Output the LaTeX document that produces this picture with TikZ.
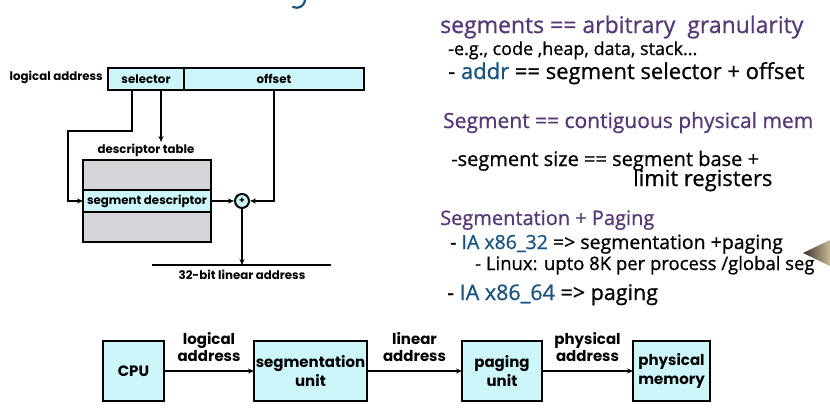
\documentclass[tikz,border=0pt]{standalone}
\usepackage{fontspec}
\setmainfont{Poppins}
\newfontfamily\handfont[FakeBold=0.8]{Open Sans}
\usetikzlibrary{arrows.meta,calc}
\definecolor{boxcyan}{RGB}{204,246,250}
\definecolor{tablegray}{RGB}{211,213,216}
\definecolor{inkpurple}{RGB}{86,58,118}
\definecolor{inkblue}{RGB}{26,84,128}
\definecolor{penbody}{RGB}{200,186,152}
\definecolor{pentip}{RGB}{58,50,40}
\begin{document}
\begin{tikzpicture}[x=1pt,y=-1pt,
  conn/.style={line width=1.3pt},
  arr/.style={conn,-{Stealth[length=6pt,width=5pt]}},
  field/.style={draw,line width=2pt,fill=boxcyan,inner sep=0pt,outer sep=0pt,
    font=\fontsize{11.8}{13}\selectfont\bfseries},
  tablebox/.style={draw,line width=2.2pt,fill=tablegray,inner sep=0pt,outer sep=0pt},
  lbl/.style={font=\fontsize{11.8}{13}\selectfont\bfseries,inner sep=0pt},
  unit/.style={draw,line width=2.4pt,fill=boxcyan,inner sep=0pt,outer sep=0pt,
    align=center,font=\fontsize{15}{19}\selectfont\bfseries},
  flowlbl/.style={align=center,font=\fontsize{15}{17}\selectfont\bfseries,inner sep=0pt,anchor=south},
  hand/.style={anchor=base west,inner sep=0pt},
  hs/.style={font=\handfont\fontsize{#1}{#1}\selectfont},
]
\useasboundingbox[fill=white] (0,0) rectangle (830,408);

% fragment of the title above
\draw[inkblue,line width=2.2pt,line cap=round] (305,0) .. controls (304,7) and (298,9) .. (293,7);

% ---------- segment translation detail ----------
\node[lbl,anchor=east] (logaddr) at (103,77) {logical address};
\node[field,anchor=north west,minimum width=76pt,minimum height=22pt] (sel) at (108,68) {selector};
\node[field,anchor=north west,minimum width=180pt,minimum height=22pt] (off) at (184,68) {offset};

\node[tablebox,anchor=north west,minimum width=128pt,minimum height=82pt] (table) at (83,160) {};
\node[field,anchor=north west,minimum width=128pt,minimum height=22pt] (segd) at (83,190) {segment descriptor};
\node[lbl,anchor=south] (dtlbl) at (146,157) {descriptor table};
\draw[line width=2.2pt] (table.north west) rectangle (table.south east);

\node[draw,circle,line width=2pt,fill=boxcyan,minimum size=14pt,inner sep=0pt,
  font=\fontsize{9}{9}\selectfont\bfseries] (plus) at (242,201) {+};

\coordinate (bend) at (68,131);
\draw[arr] ($(sel.south)+(-14,0)$) |- (bend) |- (segd.west);
\draw[arr] ($(sel.south)+(15,0)$) -- ++(0,52);
\draw[arr] (segd.east) -- (plus.west);
\draw[arr] (off.south) |- (plus.east);

\coordinate (linL) at (152,265);
\coordinate (linR) at (331,265);
\draw[conn] (linL) -- (linR);
\draw[arr] (plus.south) -- (plus.south |- linL);
\node[lbl,anchor=north] (linlbl) at (242,270) {32-bit linear address};

% ---------- address translation pipeline ----------
\node[unit,minimum width=61pt,minimum height=60pt] (cpu) at (133.5,371) {CPU};
\node[unit,minimum width=113pt,minimum height=60pt] (segu) at (310.5,371) {segmentation\\unit};
\node[unit,minimum width=80pt,minimum height=60pt] (pagu) at (502,371) {paging\\unit};
\node[unit,minimum width=77pt,minimum height=60pt] (phys) at (671.5,371) {physical\\memory};

\draw[arr] (cpu.east) -- (segu.west) node[flowlbl,midway,yshift=9pt] {logical\\address};
\draw[arr] (segu.east) -- (pagu.west) node[flowlbl,midway,yshift=9pt] {linear\\address};
\draw[arr] (pagu.east) -- (phys.west) node[flowlbl,midway,yshift=9pt] {physical\\address};

% ---------- handwritten notes ----------
\node[hand,hs=23,inkpurple] (n1) at (440,33) {segments == arbitrary\ \ granularity};
\node[hand,hs=18] (n2) at (448,55) {-e.g., code ,heap, data, stack...};
\node[hand,hs=22] (n3) at (448,79) {- \textcolor{inkblue}{addr} == segment selector + offset};
\node[hand,hs=21,inkpurple] (n4) at (443,128) {Segment == contiguous physical mem};
\node[hand,hs=20] (n5) at (451,166) {-segment size == segment base +};
\node[hand,hs=22] (n6) at (633,186) {limit registers};
\node[hand,hs=20,inkpurple] (n7) at (440,225) {Segmentation + Paging};
\node[hand,hs=19.5] (n8) at (450,249) {- \textcolor{inkblue}{IA x86\_32} => segmentation +paging};
\node[hand,hs=18.5] (n9) at (475,270) {- Linux: upto 8K per process /global seg};
\node[hand,hs=21.5] (n10) at (447,300) {- \textcolor{inkblue}{IA x86\_64} => paging};

% pen tip
\shade[left color=pentip,right color=penbody] (803,253) -- (830,240) -- (830,266) -- cycle;
\end{tikzpicture}
\end{document}
